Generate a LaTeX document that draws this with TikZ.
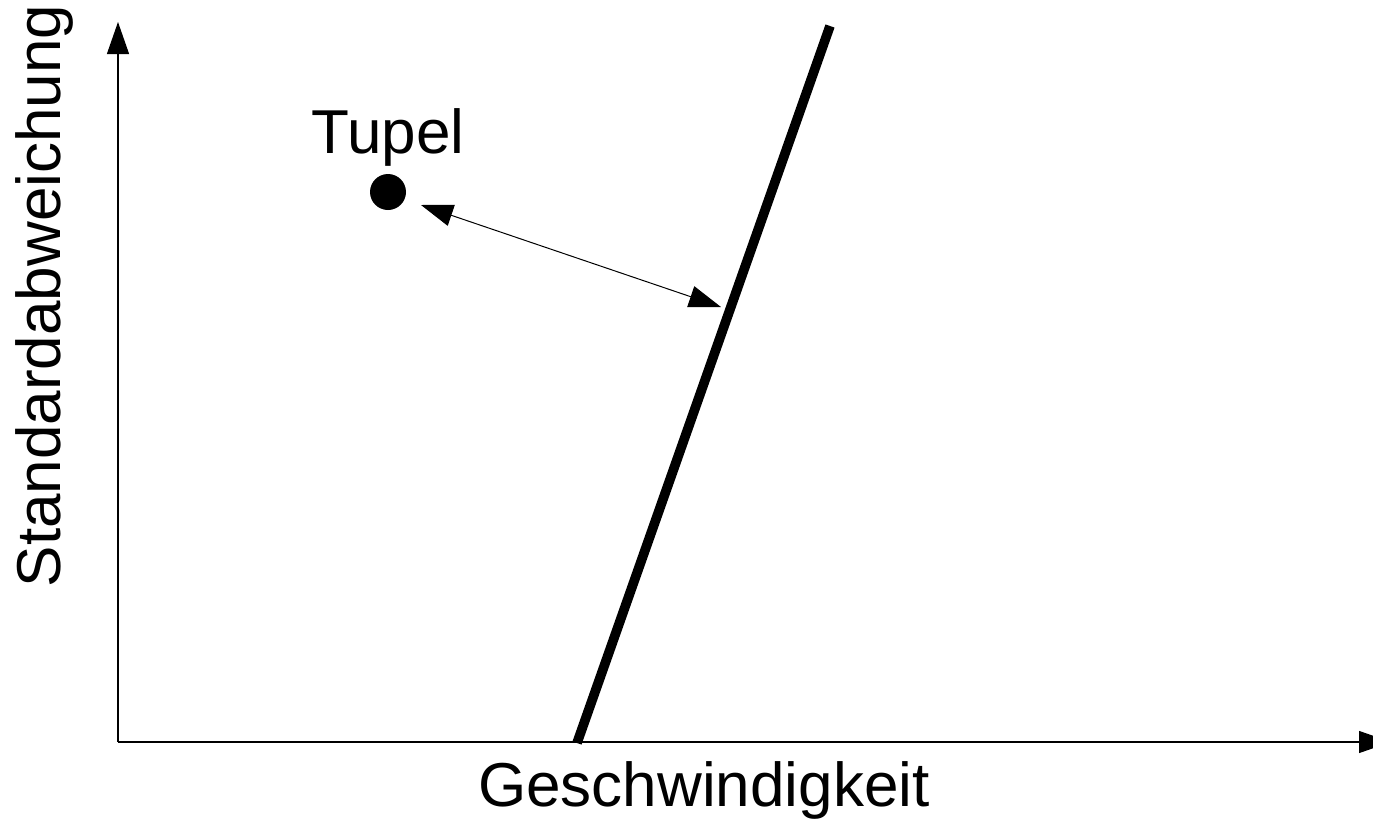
\documentclass[tikz,border=0pt]{standalone}
\usepackage{fontspec}
\setmainfont{Liberation Sans}
\usetikzlibrary{arrows.meta}
\tikzset{
  axis/.style={line width=0.6pt, -{Triangle[length=16pt,width=11pt]}},
  dist/.style={line width=0.5pt, {Triangle[length=16pt,width=11pt]}-{Triangle[length=16pt,width=11pt]}},
  border/.style={line width=4.8pt, line cap=butt},
  lbl/.style={font=\fontsize{31pt}{37pt}\selectfont, inner sep=0pt},
  tdot/.style={circle, fill=black, inner sep=0pt, minimum size=18pt}
}
\begin{document}
\begin{tikzpicture}[x=0.5pt,y=-0.5pt]
\useasboundingbox (0,0) rectangle (1373,820);
\coordinate (O) at (118,742);
\coordinate (ytip) at (118,22);
\coordinate (xtip) at (1391,742);
\draw[axis] (O) -- (ytip);
\draw[axis] (O) -- (xtip);
\coordinate (lb) at (577,743);
\coordinate (lt) at (830,26);
\draw[border] (lb) -- (lt);
\node[tdot] (dot) at (388,192) {};
\node[lbl, anchor=base] (tupel) at (388,153) {Tupel};
\coordinate (a1) at (421,205);
\coordinate (a2) at (721,307);
\draw[dist] (a1) -- (a2);
\node[lbl, anchor=base] (xl) at (704,806) {Geschwindigkeit};
\node[lbl, anchor=base, rotate=90] (yl) at (61,296) {Standardabweichung};
\end{tikzpicture}
\end{document}
